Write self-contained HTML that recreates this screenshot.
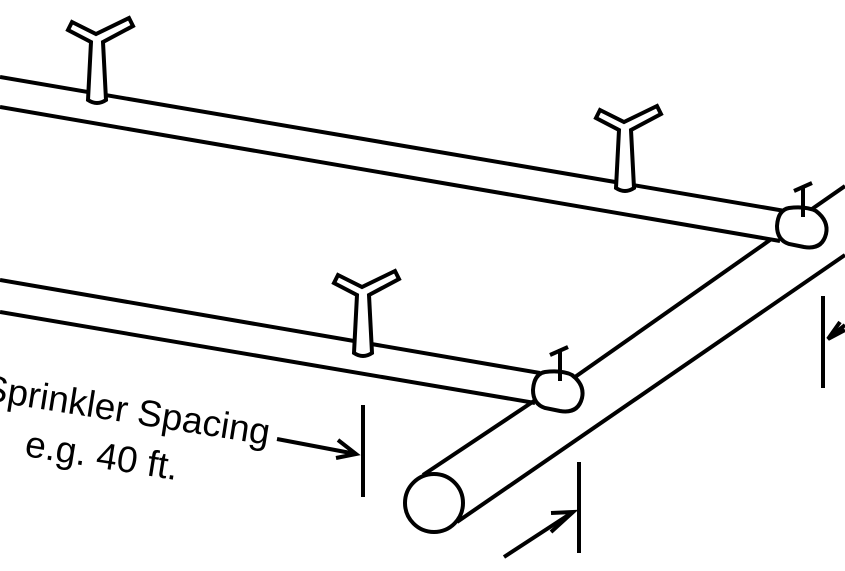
<!DOCTYPE html>
<html><head><meta charset="utf-8"><style>html,body{margin:0;padding:0;background:#fff}svg{display:block}</style></head>
<body>
<svg width="845" height="571" viewBox="0 0 845 571" xmlns="http://www.w3.org/2000/svg">
<defs>
<path id="sp" d="M-9,-4 L-6,-62 L-29,-74 L-25,-82 L-1,-70 L32,-86 L36,-78 L6,-62 L9,-4 Q0,2 -9,-4Z" fill="#fff" stroke="#000" stroke-width="4" stroke-linejoin="miter"/>
</defs>
<g stroke="#000" stroke-width="4" fill="none" stroke-linecap="butt">
<line x1="0" y1="77" x2="785" y2="211"/>
<line x1="0" y1="107" x2="780" y2="241"/>
<line x1="0" y1="280" x2="540" y2="373"/>
<line x1="0" y1="312" x2="535" y2="403"/>
<line x1="423" y1="475" x2="540" y2="397"/>
<line x1="575" y1="377" x2="770" y2="240"/>
<line x1="812" y1="209" x2="845" y2="186"/>
<line x1="457" y1="522" x2="845" y2="255"/>
<ellipse cx="434" cy="503" rx="29" ry="29" fill="#fff"/>
<path d="M545,372 Q562,370 572,375 Q585,385 582,398 Q578,414 560,411 L545,408 Q533,404 533,390 Q534,374 545,372Z" fill="#fff"/>
<path d="M789,208 Q806,206 816,211 Q829,221 826,234 Q822,250 804,247 L789,244 Q777,240 777,226 Q778,210 789,208Z" fill="#fff"/>
<line x1="560" y1="381" x2="560" y2="349"/>
<line x1="550" y1="355" x2="568" y2="347"/>
<line x1="803" y1="217" x2="803" y2="186"/>
<line x1="794" y1="191" x2="812" y2="183"/>
<line x1="363" y1="405" x2="363" y2="497"/>
<line x1="277" y1="439" x2="356" y2="454"/>
<polyline points="338,440 356,454 336,458"/>
<line x1="579" y1="462" x2="579" y2="553"/>
<line x1="504" y1="557" x2="573" y2="512"/>
<polyline points="551,513 573,512 551,532"/>
<line x1="823" y1="296" x2="823" y2="388"/>
<line x1="845" y1="325" x2="830" y2="337"/>
<polyline points="845,330 828,339 840,322"/>
</g>
<use href="#sp" transform="translate(97,104)"/>
<use href="#sp" transform="translate(625,192)"/>
<use href="#sp" transform="translate(363,357)"/>
<g font-family="'Liberation Sans', sans-serif" font-size="37" fill="#000">
<text x="268" y="445" text-anchor="end" transform="rotate(9 268 445)">Sprinkler Spacing</text>
<text x="100" y="468" text-anchor="middle" transform="rotate(9 100 468)">e.g. 40 ft.</text>
</g>
</svg>
</body></html>
